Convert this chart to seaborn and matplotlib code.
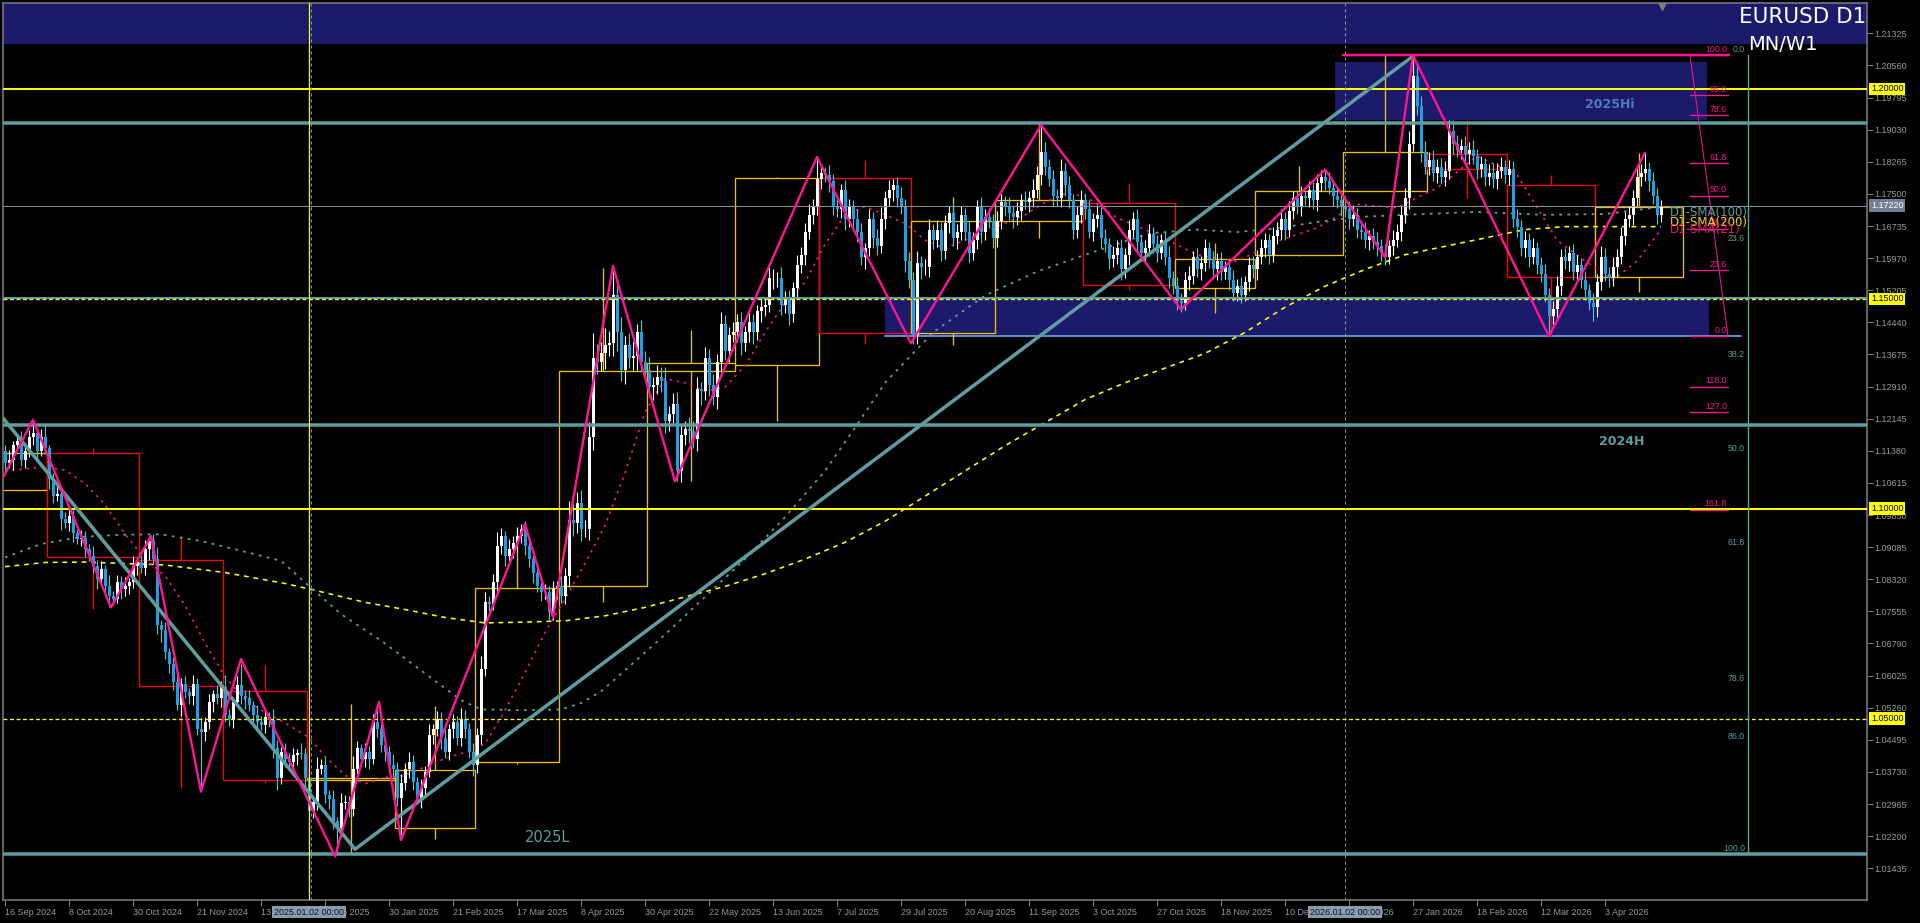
import numpy as np
import pandas as pd
import matplotlib
import matplotlib.pyplot as plt
import matplotlib.transforms as mtransforms
from matplotlib.patches import Rectangle
import seaborn as sns

matplotlib.use('Agg')

# ---------------- daily candles (bar 0 = 16 Sep 2024) ----------------
FIRST_OPEN = 1.1137
CLOSE = [
    1.1109, 1.1117, 1.1153, 1.1161, 1.1117, 1.1137, 1.1172, 1.1180, 1.1137, 1.1172,
    1.1145, 1.1070, 1.1030, 1.1034, 1.0975, 1.0967, 1.0983, 1.0943, 1.0927, 1.0930,
    1.0904, 1.0888, 1.0864, 1.0832, 1.0856, 1.0816, 1.0793, 1.0785, 1.0825, 1.0809,
    1.0817, 1.0825, 1.0864, 1.0872, 1.0860, 1.0904, 1.0923, 1.0880, 1.0722, 1.0710,
    1.0658, 1.0631, 1.0587, 1.0532, 1.0583, 1.0563, 1.0555, 1.0583, 1.0476, 1.0468,
    1.0492, 1.0540, 1.0559, 1.0548, 1.0575, 1.0508, 1.0500, 1.0540, 1.0579, 1.0555,
    1.0548, 1.0532, 1.0508, 1.0492, 1.0484, 1.0504, 1.0496, 1.0429, 1.0358, 1.0421,
    1.0405, 1.0397, 1.0413, 1.0417, 1.0415, 1.0358, 1.0279, 1.0302, 1.0381, 1.0389,
    1.0318, 1.0308, 1.0255, 1.0239, 1.0298, 1.0302, 1.0284, 1.0381, 1.0429, 1.0405,
    1.0421, 1.0405, 1.0492, 1.0476, 1.0437, 1.0421, 1.0389, 1.0381, 1.0310, 1.0346,
    1.0381, 1.0397, 1.0350, 1.0310, 1.0334, 1.0373, 1.0460, 1.0476, 1.0500, 1.0453,
    1.0421, 1.0476, 1.0492, 1.0453, 1.0500, 1.0476, 1.0421, 1.0389, 1.0460, 1.0619,
    1.0777, 1.0773, 1.0825, 1.0911, 1.0935, 1.0888, 1.0904, 1.0919, 1.0935, 1.0951,
    1.0911, 1.0880, 1.0848, 1.0816, 1.0801, 1.0801, 1.0753, 1.0809, 1.0816, 1.0793,
    1.0840, 1.0974, 1.0967, 1.1014, 1.0951, 1.0951, 1.1172, 1.1360, 1.1350, 1.1370,
    1.1390, 1.1395, 1.1510, 1.1420, 1.1330, 1.1390, 1.1360, 1.1365, 1.1420, 1.1350,
    1.1330, 1.1290, 1.1295, 1.1315, 1.1305, 1.1210, 1.1225, 1.1250, 1.1090, 1.1175,
    1.1190, 1.1185, 1.1165, 1.1285, 1.1280, 1.1360, 1.1295, 1.1265, 1.1350, 1.1440,
    1.1375, 1.1415, 1.1420, 1.1445, 1.1395, 1.1420, 1.1445, 1.1420, 1.1470, 1.1480,
    1.1485, 1.1550, 1.1550, 1.1550, 1.1485, 1.1500, 1.1465, 1.1525, 1.1580, 1.1605,
    1.1660, 1.1700, 1.1720, 1.1785, 1.1800, 1.1795, 1.1780, 1.1720, 1.1715, 1.1760,
    1.1690, 1.1720, 1.1690, 1.1660, 1.1600, 1.1620, 1.1690, 1.1645, 1.1625, 1.1690,
    1.1740, 1.1760, 1.1770, 1.1740, 1.1720, 1.1590, 1.1545, 1.1415, 1.1585, 1.1575,
    1.1575, 1.1665, 1.1640, 1.1665, 1.1615, 1.1680, 1.1705, 1.1645, 1.1660, 1.1700,
    1.1660, 1.1610, 1.1640, 1.1720, 1.1660, 1.1695, 1.1685, 1.1645, 1.1685, 1.1730,
    1.1720, 1.1705, 1.1695, 1.1710, 1.1735, 1.1730, 1.1740, 1.1760, 1.1795, 1.1850,
    1.1815, 1.1785, 1.1745, 1.1740, 1.1805, 1.1770, 1.1735, 1.1665, 1.1700, 1.1735,
    1.1715, 1.1660, 1.1690, 1.1700, 1.1645, 1.1630, 1.1595, 1.1605, 1.1620, 1.1570,
    1.1605, 1.1665, 1.1690, 1.1635, 1.1610, 1.1620, 1.1655, 1.1630, 1.1610, 1.1640,
    1.1600, 1.1550, 1.1530, 1.1495, 1.1490, 1.1545, 1.1555, 1.1600, 1.1570, 1.1585,
    1.1620, 1.1595, 1.1570, 1.1590, 1.1565, 1.1575, 1.1545, 1.1515, 1.1530, 1.1510,
    1.1540, 1.1580, 1.1570, 1.1600, 1.1620, 1.1640, 1.1605, 1.1650, 1.1665, 1.1690,
    1.1665, 1.1710, 1.1740, 1.1720, 1.1745, 1.1740, 1.1760, 1.1735, 1.1775, 1.1790,
    1.1780, 1.1765, 1.1745, 1.1735, 1.1720, 1.1715, 1.1690, 1.1700, 1.1665, 1.1660,
    1.1640, 1.1650, 1.1635, 1.1625, 1.1610, 1.1600, 1.1625, 1.1640, 1.1660, 1.1700,
    1.1740, 1.1870, 1.2030, 1.1960, 1.1850, 1.1815, 1.1830, 1.1800, 1.1815, 1.1790,
    1.1805, 1.1900, 1.1870, 1.1855, 1.1865, 1.1845, 1.1855, 1.1840, 1.1810, 1.1820,
    1.1790, 1.1800, 1.1785, 1.1805, 1.1815, 1.1795, 1.1810, 1.1690, 1.1670, 1.1620,
    1.1640, 1.1600, 1.1620, 1.1580, 1.1560, 1.1510, 1.1460, 1.1475, 1.1530, 1.1600,
    1.1590, 1.1610, 1.1565, 1.1580, 1.1545, 1.1520, 1.1490, 1.1480, 1.1540, 1.1600,
    1.1560, 1.1550, 1.1575, 1.1600, 1.1650, 1.1690, 1.1700, 1.1740, 1.1790, 1.1800,
    1.1810, 1.1780, 1.1745, 1.1700, 1.1722,
]
# wick lengths in pips above / below the body
UPPER_WICK = [
    14, 22, 9, 18, 25, 12, 16, 32, 11, 19, 27, 8, 15, 21, 10, 17, 24, 13, 9, 20,
    16, 11, 23, 14, 19, 9, 26, 12, 18, 15, 21, 10, 24, 13, 17, 22, 12, 18, 29, 14,
    20, 11, 16, 25, 13, 19, 9, 22, 15, 27, 12, 18, 10, 21, 14, 30, 16, 11, 23, 17,
    13, 20, 9, 24, 15, 18, 12, 26, 19, 11, 22, 14, 17, 10, 25, 16, 21, 13, 28, 15,
    19, 12, 23, 10, 26, 17, 14, 31, 18, 11, 22, 15, 20, 25, 12, 19, 14, 27, 16, 21,
    13, 24, 17, 10, 22, 15, 28, 12, 19, 16, 23, 11, 18, 14, 26, 20, 13, 21, 17, 30,
    25, 15, 20, 34, 18, 12, 23, 16, 21, 12, 19, 14, 17, 22, 11, 20, 15, 18, 13, 24,
    19, 45, 38, 27, 30, 22, 35, 58, 33, 26, 40, 29, 32, 24, 36, 21, 28, 34, 19, 30,
    25, 31, 18, 27, 22, 33, 20, 26, 29, 24, 19, 28, 23, 30, 17, 26, 21, 25, 18, 29,
    22, 17, 26, 19, 24, 16, 28, 20, 15, 23, 18, 25, 21, 14, 27, 19, 22, 16, 24, 18,
    20, 26, 17, 30, 21, 15, 24, 18, 27, 13, 22, 19, 16, 25, 20, 14, 23, 17, 21, 28,
    18, 24, 15, 20, 26, 17, 22, 19, 28, 16, 21, 25, 14, 23, 18, 20, 16, 24, 19, 22,
    17, 25, 20, 15, 23, 18, 21, 16, 24, 19, 14, 22, 17, 20, 15, 23, 18, 26, 21, 50,
    24, 18, 22, 16, 27, 19, 23, 15, 20, 25, 17, 21, 14, 24, 18, 22, 16, 20, 19, 23,
    15, 22, 18, 24, 16, 20, 23, 17, 21, 14, 19, 25, 16, 22, 18, 20, 24, 15, 21, 17,
    23, 16, 20, 18, 22, 14, 19, 24, 17, 21, 15, 20, 23, 16, 22, 18, 14, 21, 19, 25,
    17, 22, 16, 20, 24, 15, 21, 18, 23, 16, 20, 22, 17, 19, 14, 21, 18, 23, 16, 20,
    22, 15, 19, 24, 17, 21, 16, 23, 18, 20, 25, 30, 40, 28, 22, 26, 19, 24, 17, 21,
    23, 18, 26, 20, 16, 22, 19, 24, 17, 21, 15, 20, 23, 18, 22, 16, 21, 19, 25, 17,
    22, 18, 24, 16, 20, 23, 17, 21, 25, 19, 22, 16, 20, 24, 18, 21, 15, 23, 19, 26,
    20, 17, 24, 18, 22, 16, 21, 19, 25, 20, 30, 17, 22, 19, 14,
]
LOWER_WICK = [
    18, 12, 24, 10, 16, 21, 13, 19, 26, 11, 15, 22, 17, 12, 25, 14, 19, 23, 11, 16,
    20, 13, 18, 24, 12, 17, 21, 15, 10, 23, 16, 19, 13, 22, 14, 18, 25, 11, 20, 27,
    15, 22, 18, 12, 26, 14, 19, 23, 16, 11, 21, 17, 24, 13, 20, 15, 18, 22, 12, 19,
    24, 14, 17, 21, 12, 19, 16, 23, 29, 13, 20, 15, 18, 24, 11, 22, 45, 16, 20, 14,
    19, 23, 17, 35, 21, 13, 18, 16, 22, 14, 19, 25, 12, 20, 17, 23, 15, 21, 18, 70,
    16, 22, 19, 14, 24, 17, 13, 21, 18, 25, 15, 20, 23, 16, 19, 22, 14, 26, 18, 21,
    17, 23, 15, 20, 18, 24, 14, 21, 19, 16, 22, 18, 25, 15, 20, 17, 16, 19, 23, 18,
    21, 26, 31, 24, 29, 19, 25, 33, 28, 22, 36, 27, 30, 45, 26, 32, 24, 29, 35, 23,
    28, 24, 31, 22, 27, 30, 25, 21, 25, 26, 23, 29, 20, 27, 32, 22, 26, 19, 28, 24,
    21, 26, 18, 24, 29, 20, 23, 27, 19, 25, 22, 17, 26, 21, 24, 18, 27, 20, 23, 19,
    25, 18, 22, 20, 24, 17, 26, 21, 19, 23, 27, 18, 22, 25, 20, 28, 19, 24, 21, 17,
    23, 19, 26, 21, 18, 25, 20, 23, 22, 27, 19, 24, 21, 17, 25, 20, 23, 18, 26, 21,
    19, 24, 18, 22, 27, 20, 17, 25, 21, 19, 23, 18, 26, 20, 22, 17, 24, 21, 19, 23,
    21, 17, 25, 20, 22, 26, 18, 23, 21, 19, 24, 16, 22, 20, 25, 19, 23, 18, 21, 26,
    20, 24, 17, 22, 19, 25, 18, 21, 23, 16, 20, 24, 19, 22, 21, 17, 23, 20, 18, 24,
    19, 22, 17, 25, 20, 18, 23, 21, 19, 24, 16, 22, 20, 25, 18, 21, 23, 17, 20, 22,
    24, 18, 21, 19, 23, 17, 22, 20, 25, 18, 21, 16, 23, 19, 22, 20, 24, 17, 21, 18,
    20, 23, 17, 22, 19, 24, 18, 21, 16, 23, 20, 25, 19, 22, 24, 18, 21, 20, 23, 17,
    22, 19, 24, 18, 21, 17, 23, 20, 25, 19, 22, 18, 21, 24, 17, 20, 23, 19, 22, 18,
    21, 24, 18, 22, 20, 17, 25, 19, 23, 21, 18, 24, 20, 22, 19, 23, 17, 21, 24, 20,
    18, 22, 19, 24, 17, 21, 20, 23, 18, 22, 19, 24, 20, 21, 17,
]
# swing extremes
HIGH_MARKS = {7: 1.1212, 36: 1.0935, 59: 1.0630, 93: 1.0536, 129: 1.0963, 152: 1.1573,
              203: 1.1830, 259: 1.1918, 330: 1.1808, 352: 1.2080, 361: 1.1927, 410: 1.1848}
LOW_MARKS = {26: 1.0765, 49: 1.0335, 76: 1.0227, 83: 1.0178, 99: 1.0211, 136: 1.0733,
             168: 1.1065, 227: 1.1392, 294: 1.1468, 309: 1.1490, 345: 1.1580, 386: 1.1411, 397: 1.1447}
HOLIDAYS = ['2024-12-25', '2025-01-01', '2025-12-25', '2026-01-01']
LAST_PRICE = 1.17220

# ---------------- MN/W1 overlay (monthly candles, bar indices) ----------------
MN_FIRST = [-10, 11, 34, 55, 76, 98, 118, 139, 161, 183, 204, 227, 248, 270, 293, 313, 335, 356, 376, 398]
MN_LAST = [10, 33, 54, 75, 97, 117, 138, 160, 182, 203, 226, 247, 269, 292, 312, 334, 355, 375, 397, 419]
MN_OPEN = [1.1044, 1.1133, 1.0877, 1.0567, 1.0354, 1.0240, 1.0396, 1.0817, 1.1329, 1.1342,
           1.1788, 1.1418, 1.1686, 1.1729, 1.1525, 1.1605, 1.1756, 1.1846, 1.1770, 1.1552]
MN_CLOSE = [1.1133, 1.0884, 1.0577, 1.0354, 1.0359, 1.0378, 1.0812, 1.1327, 1.1347, 1.1788,
            1.1418, 1.1686, 1.1735, 1.1534, 1.1594, 1.1756, 1.1849, 1.1810, 1.1552, 1.1719]
MN_HIGH = [1.1133, 1.1144, 1.0934, 1.0628, 1.0534, 1.0529, 1.0955, 1.1573, 1.1425, 1.1790,
           1.1830, 1.1742, 1.1918, 1.1776, 1.1633, 1.1817, 1.2082, 1.1927, 1.1794, 1.1848]
MN_LOW = [1.1044, 1.0761, 1.0334, 1.0346, 1.0180, 1.0213, 1.0392, 1.0778, 1.1065, 1.1210,
          1.1392, 1.1391, 1.1645, 1.1522, 1.1466, 1.1602, 1.1756, 1.1741, 1.1411, 1.1516]

# ---------------- moving averages ----------------
SMA21_BAR = [0, 10, 15, 20, 25, 30, 35, 40, 45, 50, 55, 60, 65, 70, 76, 80, 85, 90, 95, 100,
             105, 110, 115, 120, 125, 130, 135, 140, 145, 150, 155, 160, 165, 170, 175, 180, 185,
             190, 195, 200, 205, 210, 215, 220, 225, 230, 235, 240, 245, 250, 255, 260, 265, 270,
             278, 288, 298, 308, 318, 328, 338, 348, 358, 368, 378, 388, 395, 402, 408, 414]
SMA21_VAL = [1.1090, 1.1100, 1.1092, 1.1060, 1.1010, 1.0940, 1.0880, 1.0840, 1.0770, 1.0680,
             1.0600, 1.0545, 1.0515, 1.0490, 1.0455, 1.0410, 1.0365, 1.0345, 1.0360, 1.0365,
             1.0385, 1.0405, 1.0420, 1.0440, 1.0520, 1.0610, 1.0705, 1.0785, 1.0870, 1.0960,
             1.1085, 1.1230, 1.1310, 1.1300, 1.1280, 1.1290, 1.1340, 1.1420, 1.1490, 1.1540,
             1.1630, 1.1700, 1.1720, 1.1700, 1.1680, 1.1640, 1.1620, 1.1640, 1.1660, 1.1680,
             1.1700, 1.1730, 1.1750, 1.1745, 1.1693, 1.1653, 1.1605, 1.1589, 1.1637, 1.1669,
             1.1725, 1.1717, 1.1764, 1.1840, 1.1796, 1.1640, 1.1590, 1.1545, 1.1590, 1.1665]
SMA100_BAR = [0, 9, 19, 29, 39, 49, 59, 69, 76, 84, 94, 104, 114, 119, 129, 139, 144, 149, 155,
              165, 175, 185, 195, 205, 213, 220, 232, 245, 258, 270, 286, 298, 308, 318, 328, 338,
              350, 368, 385, 400, 414]
SMA100_VAL = [1.0884, 1.0916, 1.0933, 1.0938, 1.0939, 1.0923, 1.0900, 1.0876, 1.0816, 1.0749,
              1.0686, 1.0615, 1.0544, 1.0522, 1.0520, 1.0522, 1.0537, 1.0565, 1.0615, 1.0700,
              1.0790, 1.0880, 1.0980, 1.1090, 1.1200, 1.1300, 1.1420, 1.1508, 1.1565, 1.1605,
              1.1656, 1.1665, 1.1659, 1.1668, 1.1683, 1.1695, 1.1700, 1.1707, 1.1700, 1.1702, 1.1719]
SMA200_BAR = [0, 10, 20, 40, 55, 70, 80, 90, 100, 110, 120, 130, 140, 150, 160, 170, 180, 190,
              200, 210, 220, 230, 240, 250, 260, 270, 280, 290, 300, 310, 320, 330, 340, 350, 360,
              370, 380, 390, 400, 414]
SMA200_VAL = [1.0862, 1.0872, 1.0873, 1.0866, 1.0848, 1.0822, 1.0800, 1.0777, 1.0760, 1.0741,
              1.0728, 1.0730, 1.0733, 1.0745, 1.0765, 1.0790, 1.0815, 1.0845, 1.0880, 1.0920,
              1.0970, 1.1030, 1.1090, 1.1150, 1.1205, 1.1260, 1.1300, 1.1335, 1.1370, 1.1420,
              1.1480, 1.1530, 1.1570, 1.1605, 1.1625, 1.1645, 1.1665, 1.1672, 1.1672, 1.1672]

# ---------------- drawn objects ----------------
ZZ_BAR = [-0.5, 7, 26.5, 36.5, 49, 59, 82.5, 93.5, 99, 130, 137, 152, 167.5, 203, 226.5,
          259, 294, 330, 345, 352, 386, 410]
ZZ_PRICE = [1.1074, 1.1212, 1.0765, 1.0935, 1.0326, 1.0642, 1.0172, 1.0540, 1.0211, 1.0963,
            1.0741, 1.1578, 1.1065, 1.1838, 1.1394, 1.1914, 1.1475, 1.1808, 1.1599, 1.2080,
            1.1411, 1.1848]
TREND_BAR = [-0.5, 87.5, 352]
TREND_PRICE = [1.1216, 1.0189, 1.2078]
LEVEL_SOLID = [1.20000, 1.10000]
LEVEL_DASHED = [1.15000, 1.05000]
KEY_LEVELS = [1.1918, 1.1200, 1.0177]        # 2025Hi / 2024H / 2025L
FIB_LABELS = ['100.0', '86.0', '78.6', '61.8', '50.0', '38.2', '23.6', '0.0', '118.0', '127.0', '161.8']
FIB_PRICES = [1.2080, 1.1986, 1.1937, 1.1824, 1.1746, 1.1667, 1.1569, 1.1411, 1.1291, 1.1230, 1.0998]
FIB2_LABELS = ['0.0', '23.6', '38.2', '50.0', '61.8', '78.6', '86.0', '100.0']
FIB2_PRICES = [1.2080, 1.1631, 1.1353, 1.1129, 1.0905, 1.0583, 1.0444, 1.0178]
SEPARATORS = ['2025-01-02', '2026-01-02']
X_LABELS = ['16 Sep 2024', '8 Oct 2024', '30 Oct 2024', '21 Nov 2024', '13 Dec 2024', '8 Jan 2025',
            '30 Jan 2025', '21 Feb 2025', '17 Mar 2025', '8 Apr 2025', '30 Apr 2025', '22 May 2025',
            '13 Jun 2025', '7 Jul 2025', '29 Jul 2025', '20 Aug 2025', '11 Sep 2025', '3 Oct 2025',
            '27 Oct 2025', '18 Nov 2025', '10 Dec 2025', '5 Jan 2026', '27 Jan 2026', '18 Feb 2026',
            '12 Mar 2026', '3 Apr 2026']
Y_TICKS = [1.01435, 1.02200, 1.02965, 1.03730, 1.04495, 1.05260, 1.06025, 1.06790, 1.07555,
           1.08320, 1.09085, 1.09850, 1.10615, 1.11380, 1.12145, 1.12910, 1.13675, 1.14440,
           1.15205, 1.15970, 1.16735, 1.17500, 1.18265, 1.19030, 1.19795, 1.20560, 1.21325]

# colours
NAVY = '#1b1a6b'
TEAL = '#5f9ea0'
PINK = '#ff1493'
YELLOW = '#ffff00'
GOLD = '#f2c200'
DN_BODY = '#1ea0e6'
DN_WICK = '#3fd3d8'
GRAY_TXT = '#9a9a9a'

sns.set_theme(style='dark', rc={'figure.facecolor': 'black', 'axes.facecolor': 'black',
                                'axes.edgecolor': '#808080', 'axes.grid': False,
                                'xtick.color': '#808080', 'ytick.color': '#808080'})
plt.rcParams['font.family'] = ['Liberation Sans', 'DejaVu Sans']

fig = plt.figure(figsize=(19.2, 9.23), dpi=100)
ax = fig.add_axes([3 / 1920, 23 / 923, 1864 / 1920, 897 / 923])
ax.set_facecolor('black')
ax.set_xlim(-0.5, 465.5)
ax.set_ylim(1.0068, 1.22047)

n = len(CLOSE)
dates = pd.bdate_range('2024-09-16', periods=n, freq='C', holidays=HOLIDAYS)
x = np.arange(n)
close = np.array(CLOSE)
opn = np.r_[FIRST_OPEN, close[:-1]]
high = np.maximum(opn, close) + np.array(UPPER_WICK) * 1e-4
low = np.minimum(opn, close) - np.array(LOWER_WICK) * 1e-4
for k, v in HIGH_MARKS.items():
    high[k] = v
for k, v in LOW_MARKS.items():
    low[k] = v

px = 1 * 72 / 100  # one pixel in points
xfull = mtransforms.blended_transform_factory(ax.transAxes, ax.transData)
yfull = mtransforms.blended_transform_factory(ax.transData, ax.transAxes)

# zones
ax.axhspan(1.2106, 1.2300, color=NAVY, lw=0, zorder=0.5)
ax.add_patch(Rectangle((332.5, 1.1925), 93, 0.0138, fc=NAVY, ec='none', zorder=0.6))
ax.add_patch(Rectangle((220, 1.1411), 206, 0.0093, fc=NAVY, ec='none', zorder=0.6))
ax.plot([220, 434], [1.1411, 1.1411], color='#5b8fc7', lw=2 * px, zorder=1)

# monthly candles
for f, l, o, c, h, lo in zip(MN_FIRST, MN_LAST, MN_OPEN, MN_CLOSE, MN_HIGH, MN_LOW):
    col = GOLD if c >= o else '#ff0000'
    ax.add_patch(Rectangle((f - 0.5, min(o, c)), l - f + 1, abs(c - o), fill=False,
                           ec=col, lw=1.3 * px, zorder=1.5))
    mid = (f + l) / 2
    ax.vlines(mid, max(o, c), h, color=col, lw=1.3 * px, zorder=1.5)
    ax.vlines(mid, lo, min(o, c), color=col, lw=1.3 * px, zorder=1.5)

# moving averages
ax.plot(SMA200_BAR, SMA200_VAL, color='#ffff00', lw=1.6 * px, ls=(0, (3, 3)), zorder=2)
ax.plot(SMA100_BAR, SMA100_VAL, color=TEAL, lw=1.8 * px, ls=(0, (1.5, 3)), zorder=2)
ax.plot(SMA21_BAR, SMA21_VAL, color=PINK, lw=1.6 * px, ls=(0, (1.5, 3)), zorder=2)

# candles
up = close >= opn
ax.vlines(x[up], low[up], high[up], color='white', lw=1.1 * px, zorder=3)
ax.vlines(x[~up], low[~up], high[~up], color=DN_WICK, lw=1.1 * px, zorder=3)
body = np.maximum(np.abs(close - opn), 0.00006)
bottom = np.minimum(opn, close)
ax.bar(x[up], body[up], bottom=bottom[up], width=0.75, color='white', lw=0, zorder=3.1)
ax.bar(x[~up], body[~up], bottom=bottom[~up], width=0.75, color=DN_BODY, lw=0, zorder=3.1)

# horizontal levels
for lv in LEVEL_SOLID:
    ax.axhline(lv, color=YELLOW, lw=2 * px, zorder=4)
ax.axhline(1.1503, color=TEAL, lw=2 * px, zorder=4)
for lv in LEVEL_DASHED:
    ax.axhline(lv, color=YELLOW, lw=1.3 * px, ls=(0, (3, 2)), zorder=4.1)
for lv in KEY_LEVELS:
    ax.axhline(lv, color=TEAL, lw=3.5 * px, zorder=4)
ax.axhline(LAST_PRICE, color='#8a95a0', lw=1 * px, zorder=4)

# separators
sep_bars = [dates.get_loc(pd.Timestamp(s)) for s in SEPARATORS]
ax.axvline(sep_bars[0], color=YELLOW, lw=1.2 * px, zorder=4)
ax.axvline(sep_bars[0] + 0.6, color='#909090', lw=1 * px, ls=(0, (3, 3)), zorder=4)
ax.axvline(sep_bars[1], color='#909090', lw=1 * px, ls=(0, (3, 3)), zorder=4)

# trend line and zigzag
sns.lineplot(x=TREND_BAR, y=TREND_PRICE, ax=ax, color=TEAL, lw=3.5 * px, sort=False, zorder=5)
sns.lineplot(x=ZZ_BAR, y=ZZ_PRICE, ax=ax, color=PINK, lw=2.4 * px, sort=False, zorder=5.5)

# fibonacci (pink)
ax.plot([334.5, 431], [FIB_PRICES[0]] * 2, color=PINK, lw=2.5 * px, zorder=6)
for lab, pr in zip(FIB_LABELS, FIB_PRICES):
    ax.plot([421.25, 430.75], [pr, pr], color=PINK, lw=1.3 * px, zorder=6)
    ax.text(430.5, pr + 0.0003, lab, color=PINK, fontsize=6.3, ha='right', va='bottom', zorder=6)
ax.plot([421.25, 430.75], [FIB_PRICES[0], FIB_PRICES[7]], color=PINK, lw=1 * px, zorder=6)

# fibonacci (teal)
ax.plot([435.75, 435.75], [FIB2_PRICES[0], FIB2_PRICES[-1]], color=TEAL, lw=1.4 * px, zorder=6)
for lab, pr in zip(FIB2_LABELS, FIB2_PRICES):
    ax.text(435.0, pr + 0.0003, lab, color=TEAL, fontsize=6.3, ha='right', va='bottom', zorder=6)

# labels on chart
ax.text(401.25, 1.1963, '2025Hi', color='#4a7cc4', fontsize=9, fontweight='bold',
        ha='center', va='center', family='DejaVu Sans', zorder=7)
ax.text(404.25, 1.1161, '2024H', color=TEAL, fontsize=9, fontweight='bold',
        ha='center', va='center', family='DejaVu Sans', zorder=7)
ax.text(135.75, 1.0217, '2025L', color=TEAL, fontsize=10.5, ha='center', va='center',
        family='DejaVu Sans', zorder=7)
ax.text(416.25, 1.1706, 'D1-SMA(100)', color=TEAL, fontsize=8.5, ha='left', va='center',
        family='DejaVu Sans', zorder=7)
ax.text(416.25, 1.1682, 'D1-SMA(200)', color='#ffd700', fontsize=8.5, ha='left', va='center',
        family='DejaVu Sans', zorder=7.1)
ax.text(416.25, 1.1664, 'D1-SMA(21)', color='#e0186c', fontsize=8.5, ha='left', va='center',
        family='DejaVu Sans', zorder=7.2)
ax.plot([414.25], [1.2197], marker='v', color='#7a7a7a', ms=6, zorder=7)

# axes / ticks
for sp in ax.spines.values():
    sp.set_visible(True)
    sp.set_color('#808080')
    sp.set_linewidth(1.5 * px)
ax.yaxis.tick_right()
ax.set_yticks(Y_TICKS)
ax.set_yticklabels([f'{v:.5f}' for v in Y_TICKS])
ax.tick_params(axis='y', right=True, left=False, direction='out', length=4, width=1 * px,
               pad=1.5, labelsize=6.5, labelcolor=GRAY_TXT)
tick_bars = [dates.get_loc(pd.to_datetime(s)) for s in X_LABELS]
ax.set_xticks(tick_bars)
ax.set_xticklabels(X_LABELS, ha='left')
ax.tick_params(axis='x', bottom=True, direction='out', length=4, width=1 * px, pad=2,
               labelsize=6.5, labelcolor=GRAY_TXT)
ax.set_xlabel('')
ax.set_ylabel('')
ax.grid(False)

# price tags on the scale
for lv in LEVEL_SOLID + LEVEL_DASHED:
    ax.annotate(f'{lv:.5f}', xy=(1, lv), xycoords=xfull, xytext=(2.8, 0), textcoords='offset points',
                ha='left', va='center', fontsize=6.5, color='black', zorder=10, annotation_clip=False,
                bbox=dict(boxstyle='square,pad=0.2', fc=YELLOW, ec='none'))
ax.annotate(f'{LAST_PRICE:.5f}', xy=(1, LAST_PRICE), xycoords=xfull, xytext=(2.8, 0),
            textcoords='offset points', ha='left', va='center', fontsize=6.5, color='white',
            zorder=10, annotation_clip=False,
            bbox=dict(boxstyle='square,pad=0.2', fc='#6f8193', ec='none'))
for b, s in zip(sep_bars, SEPARATORS):
    ax.text(b, -0.0135, pd.Timestamp(s).strftime('%Y.%m.%d %H:%M'), transform=yfull,
            ha='center', va='center', fontsize=6.5, color='#101425', zorder=10, clip_on=False,
            bbox=dict(boxstyle='square,pad=0.2', fc='#8b9bb0', ec='none'))

fig.text(1866 / 1920, 1 - 17 / 923, 'EURUSD D1', color='white', fontsize=15.5, ha='right',
         va='center', family='DejaVu Sans')
fig.text(1748 / 1920, 1 - 44 / 923, 'MN/W1', color='white', fontsize=14, ha='left',
         va='center', family='DejaVu Sans')

fig.savefig('out.png', dpi=100, facecolor='black')
